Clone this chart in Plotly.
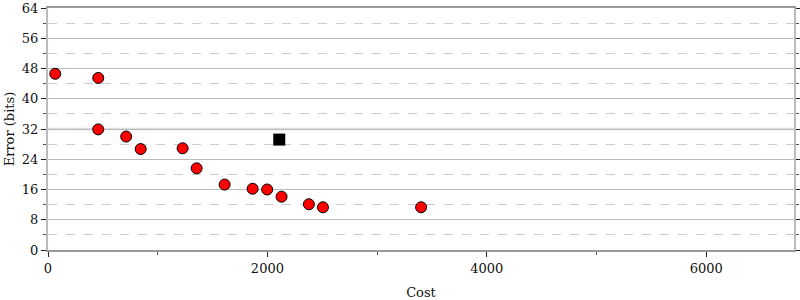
import plotly.graph_objects as go

cost = [66, 458, 458, 713, 845, 1227, 1355, 1610, 1865, 1998, 2129, 2378, 2506, 3401]
error_bits = [46.6, 45.5, 31.9, 30.0, 26.7, 26.9, 21.6, 17.3, 16.2, 16.0, 14.1, 12.1, 11.3, 11.3]
ref_cost = [2108]
ref_error = [29.2]
highlight_y = 32

FONT = "DejaVu Serif"
FS = 13

fig = go.Figure()
fig.add_trace(go.Scatter(x=cost, y=error_bits, mode="markers",
                         marker=dict(color="#ff0000", size=11, line=dict(color="#000000", width=1)),
                         showlegend=False))
fig.add_trace(go.Scatter(x=ref_cost, y=ref_error, mode="markers",
                         marker=dict(color="#000000", size=12, symbol="square", line=dict(width=0)),
                         showlegend=False))

fig.add_shape(type="line", xref="paper", x0=0, x1=1, yref="y", y0=highlight_y, y1=highlight_y,
              line=dict(color="#dddddd", width=2.5), layer="below")

xr = [0, 6800]
yr = [0, 64]

fig.update_layout(
    width=800, height=300,
    margin=dict(l=48, r=6, t=7.5, b=50),
    paper_bgcolor="white", plot_bgcolor="white",
    font=dict(family=FONT, size=FS, color="#111"),
    xaxis=dict(range=xr, showgrid=False, zeroline=False, dtick=2000, tick0=0, automargin=False,
               ticks="outside", ticklen=5, tickwidth=1, tickcolor="#222",
               showline=True, linecolor="#999", linewidth=2, mirror=True,
               minor=dict(dtick=1000, ticks="outside", ticklen=3, tickcolor="#555", showgrid=False),
               title=dict(text="Cost", standoff=18, font=dict(size=FS)),
               tickfont=dict(size=FS)),
    yaxis=dict(range=yr, dtick=8, tick0=0, showgrid=True, gridcolor="#bbbbbb", gridwidth=1,
               automargin=False,
               zeroline=False, ticks="outside", ticklen=5, tickwidth=1, tickcolor="#222",
               showline=True, linecolor="#bbbbbb", linewidth=2, mirror="ticks",
               minor=dict(dtick=4, ticks="outside", ticklen=3, tickcolor="#555",
                          showgrid=True, gridcolor="#cccccc", griddash="dash", gridwidth=1),
               title=dict(text="Error (bits)", standoff=4, font=dict(size=FS)),
               tickfont=dict(size=FS)),
    xaxis2=dict(range=xr, overlaying="x", anchor="y", side="bottom", showgrid=False,
                zeroline=False, showticklabels=False, dtick=2000, tick0=0, automargin=False,
                ticks="inside", ticklen=6, tickwidth=1, tickcolor="#222",
                minor=dict(dtick=1000, ticks="inside", ticklen=3, tickcolor="#555")),
    yaxis2=dict(range=yr, overlaying="y", anchor="x", side="left", showgrid=False,
                zeroline=False, showticklabels=False, dtick=8, tick0=0, automargin=False,
                ticks="inside", ticklen=5, tickwidth=1, tickcolor="#222", mirror="ticks",
                showline=False,
                minor=dict(dtick=4, ticks="inside", ticklen=3, tickcolor="#555")),
)

fig.write_html("out.html")
